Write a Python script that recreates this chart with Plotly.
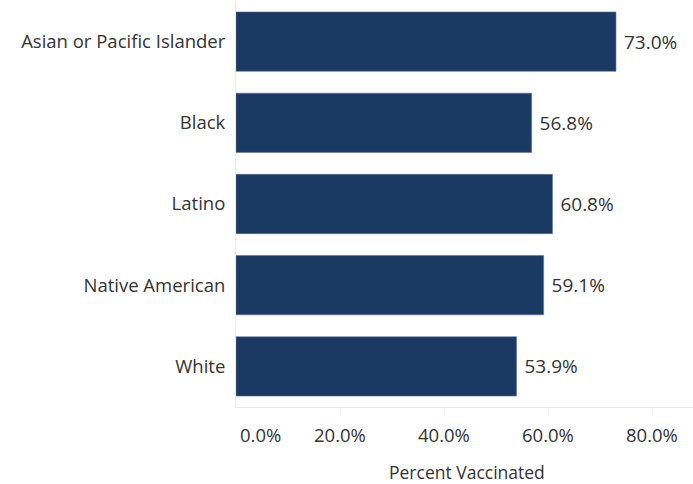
import plotly.graph_objects as go

categories = ["Asian or Pacific Islander", "Black", "Latino", "Native American", "White"]
values = [73.0, 56.8, 60.8, 59.1, 53.9]
tick_vals = [0, 20, 40, 60, 80]
tick_labels = ["0.0%", "20.0%", "40.0%", "60.0%", "80.0%"]
axis_title = "Percent Vaccinated"

FONT = "Open Sans"
FS = 18.5
TXT = "#333333"
W, H = 693, 484
L, R, T, B = 236, 0, 1, 77

fig = go.Figure(go.Bar(
    y=categories, x=values, orientation="h",
    marker=dict(color="#1b3a63", line=dict(color="#5a7394", width=0.6)),
    width=0.73,
    text=[f" {v:.1f}%" for v in values],
    textposition="outside",
    textfont=dict(family=FONT, size=FS + 0.5, color=TXT),
    cliponaxis=False,
))

plot_w = W - L - R
x_max = plot_w / 5.205

fig.update_layout(
    width=W, height=H,
    margin=dict(l=L, r=R, t=T, b=B),
    plot_bgcolor="white", paper_bgcolor="white",
    showlegend=False,
    bargap=0.27,
    font=dict(family=FONT, size=FS, color=TXT),
)
fig.update_xaxes(
    range=[0, x_max], showgrid=False, zeroline=False,
    showticklabels=False,
    tickvals=tick_vals[1:], ticks="outside", ticklen=8, tickcolor="#eeeeee",
    showline=True, linecolor="#e8e8e8", linewidth=1,
)
fig.update_yaxes(
    categoryorder="array", categoryarray=categories, autorange="reversed",
    showgrid=False, zeroline=False,
    showline=True, linecolor="#e8e8e8", linewidth=1,
    ticks="outside", ticklen=6, tickcolor="rgba(0,0,0,0)",
    tickfont=dict(family=FONT, size=FS, color=TXT),
)

for i, (v, lab) in enumerate(zip(tick_vals, tick_labels)):
    fig.add_annotation(
        x=v, xref="x", y=0, yref="paper", yanchor="top", yshift=-13,
        xanchor="left" if i == 0 else "center", xshift=2 if i == 0 else 0,
        text=lab, showarrow=False,
        font=dict(family=FONT, size=FS, color=TXT),
    )

fig.add_annotation(
    x=(467 - L) / plot_w, xref="paper", y=0, yref="paper", yanchor="top", yshift=-51,
    text=axis_title, showarrow=False,
    font=dict(family=FONT, size=FS - 1, color=TXT),
)

fig.write_html("out.html", config={"displayModeBar": False},
               post_script="document.body.style.margin='0';")
